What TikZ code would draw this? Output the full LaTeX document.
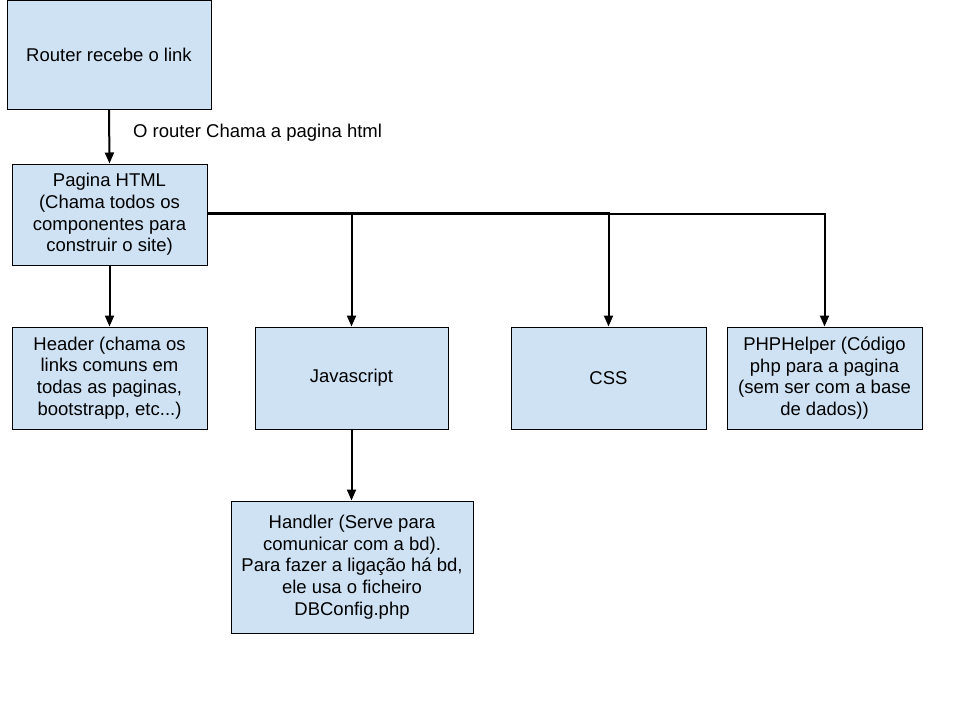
\documentclass[tikz,border=0pt]{standalone}
\usepackage{fontspec}
\setmainfont{Liberation Sans}
\usetikzlibrary{arrows.meta}
\definecolor{boxfill}{HTML}{CFE2F3}
\tikzset{
  box/.style={draw=black, fill=boxfill, line width=1pt, inner sep=0pt, align=center,
    font=\fontsize{18.5}{21.7}\selectfont},
  conn/.style={draw=black, line width=2pt, -{Triangle[width=9pt,length=11pt]}},
}
\begin{document}
\begin{tikzpicture}[x=1pt,y=-1pt]
\useasboundingbox (0,0) rectangle (960,720);
\node[box, minimum width=204pt, minimum height=109pt] (router) at (109,54.5) {Router recebe o link};
\node[box, minimum width=195pt, minimum height=101pt] (html) at (109.5,214.5) {Pagina HTML\\(Chama todos os\\componentes para\\construir o site)};
\node[box, minimum width=195pt, minimum height=102pt] (header) at (109.5,378) {Header (chama os\\links comuns em\\todas as paginas,\\bootstrapp, etc...)};
\node[box, minimum width=193pt, minimum height=102pt] (js) at (351.5,378) {Javascript};
\node[box, minimum width=195pt, minimum height=102pt] (css) at (608.5,378) {CSS};
\node[box, minimum width=195pt, minimum height=102pt] (php) at (824.5,378) {PHPHelper (Código\\php para a pagina\\(sem ser com a base\\de dados))};
\node[box, minimum width=242pt, minimum height=132pt] (handler) at (352,567) {Handler (Serve para\\comunicar com a bd).\\Para fazer a ligação há bd,\\ele usa o ficheiro\\DBConfig.php};
\node[font=\fontsize{18.5}{21.7}\selectfont, anchor=west, inner sep=0pt] (lbl) at (133,133) {O router Chama a pagina html};
\draw[conn] (router.south) -- (html.north);
\draw[conn] (html.south) -- (header.north);
\draw[conn] (html.east |- 0,213) -| (js.north);
\draw[conn] (html.east |- 0,213) -| (css.north);
\draw[conn] (html.east |- 0,214) -| (php.north);
\draw[conn] (js.south) -- (handler.north -| js.south);
\end{tikzpicture}
\end{document}
